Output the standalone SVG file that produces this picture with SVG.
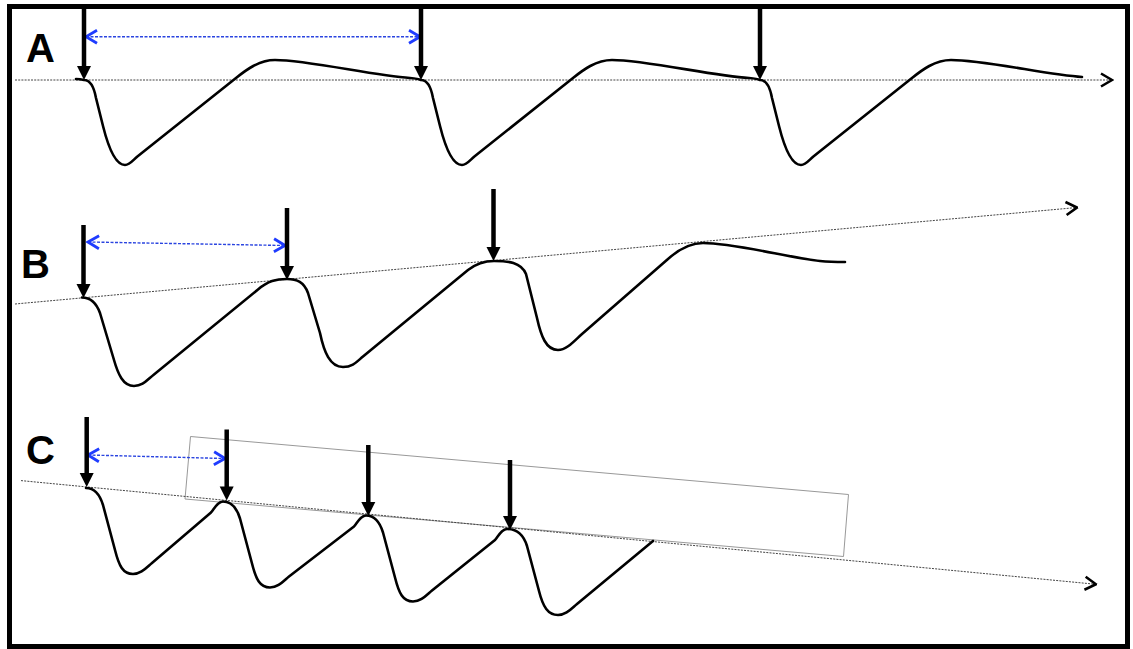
<svg xmlns="http://www.w3.org/2000/svg" width="1133" height="649" viewBox="0 0 1133 649">
<style>
.frame{fill:#fff;stroke:#000;stroke-width:5}
.axis{fill:none;stroke:#444;stroke-width:1;stroke-dasharray:2 1.2}
.wave{fill:none;stroke:#000;stroke-width:2.6;stroke-linejoin:round;stroke-linecap:round}
.shaft{stroke:#000;stroke-width:4.5}
.head{fill:#000}
.span{fill:none;stroke:#2a44e0;stroke-width:1.4;stroke-dasharray:3 1.5}
.box{fill:none;stroke:#999;stroke-width:1}
.lbl{font-family:"Liberation Sans",Arial,sans-serif;font-weight:bold;font-size:40px;fill:#000}
</style>
<defs>
<marker id="chev" viewBox="0 0 14 16" refX="12.5" refY="8" markerWidth="14" markerHeight="16" orient="auto" markerUnits="userSpaceOnUse">
<path d="M1.5,1.5 L12.5,8 L1.5,14.5" fill="none" stroke="#000" stroke-width="2.6"/>
</marker>
<marker id="bchev" viewBox="0 0 14 16" refX="12.5" refY="8" markerWidth="14" markerHeight="16" orient="auto-start-reverse" markerUnits="userSpaceOnUse">
<path d="M1.5,1.5 L12.5,8 L1.5,14.5" fill="none" stroke="#1f3cff" stroke-width="2.8"/>
</marker>
</defs>
<rect class="frame" x="9.5" y="6.5" width="1118" height="640"/>

<g id="panel-A">
<text class="lbl" x="26" y="62">A</text>
<g id="A-connectors">
<line class="axis" x1="15" y1="80" x2="1112" y2="80" marker-end="url(#chev)"/>
<line class="span" x1="86" y1="36.7" x2="420" y2="36.7" marker-start="url(#bchev)" marker-end="url(#bchev)"/>
</g>
<path class="wave" d="M76,79 C80,79 82,79.5 84,80 C90,80 94,87 96,98 L103,126 C107,142 114,165 125,165 C130,165 133,160 138,156 L236,78 C246,70 259,60 275,60 C309,60 374,76 410,78 C416,78.5 419,79 421,80 C427,80 431,87 433,98 L440,126 C444,142 451,165 462,165 C467,165 470,160 475,156 L573,78 C583,70 596,60 612,60 C646,60 713,76 749,78 C755,78.5 758,79 760,80 C766,80 770,87 772,98 L779,126 C783,142 790,165 801,165 C806,165 809,160 814,156 L912,78 C922,70 935,60 951,60 C985,60 1048,75 1082,77"/>
<g id="A-arrow1"><line class="shaft" x1="84" y1="8" x2="84" y2="68"/><polygon class="head" points="77,66 91,66 84,80"/></g>
<g id="A-arrow2"><line class="shaft" x1="421" y1="8" x2="421" y2="68"/><polygon class="head" points="414,66 428,66 421,80"/></g>
<g id="A-arrow3"><line class="shaft" x1="760" y1="8" x2="760" y2="68"/><polygon class="head" points="753,66 767,66 760,80"/></g>
</g>

<g id="panel-B">
<text class="lbl" x="21" y="278">B</text>
<g id="B-connectors">
<line class="axis" x1="15" y1="304" x2="1077" y2="207.5" marker-end="url(#chev)"/>
<line class="span" x1="88" y1="242" x2="285" y2="245.5" marker-start="url(#bchev)" marker-end="url(#bchev)"/>
</g>
<path class="wave" d="M82,297.5 C90,297.5 96,302 100,313 L114,360 C118,374 123,386 134,386 C143,386 147,380 154,374.5 L258,289.5 C268,281 276,279 287,279 C297,279 304,282 308,293 L320,333 C324,352 330,367 343,367 C353,367 357,361.5 363,356.5 L468,270 C477,263 485,261 494,261 C508,261 521,262 526,274 L537,318 C541,336 546,350 558,350 C567,350 575,340 582,334 L668,259 C678,250 690,243 703,243 C735,243 790,258 820,261 C830,262 838,262 845,262"/>
<g id="B-arrow1"><line class="shaft" x1="83.5" y1="225" x2="83.5" y2="286"/><polygon class="head" points="76.5,284 90.5,284 83.5,298"/></g>
<g id="B-arrow2"><line class="shaft" x1="287" y1="208" x2="287" y2="268"/><polygon class="head" points="280,266 294,266 287,280"/></g>
<g id="B-arrow3"><line class="shaft" x1="493.5" y1="189" x2="493.5" y2="249"/><polygon class="head" points="486.5,247 500.5,247 493.5,261"/></g>
</g>

<g id="panel-C">
<text class="lbl" x="26" y="464">C</text>
<polygon id="C-box" class="box" points="190.5,436.5 848.5,494.5 843.5,556.5 185,499"/>
<g id="C-connectors">
<line class="axis" x1="21" y1="480.6" x2="1096" y2="584.3" marker-end="url(#chev)"/>
<line class="span" x1="88" y1="455" x2="225" y2="458.5" marker-start="url(#bchev)" marker-end="url(#bchev)"/>
</g>
<path class="wave" d="M86,488 C93,488 99,492 103,505 L115,550 C119,566 123,574 133,574 C141,574 146,568 152,563 L211,512.5 C215,507.5 218,501.5 223,501.5 C230,501.5 236,505.5 240,518.5 L252,563.5 C256,579.5 260,587.5 270,587.5 C278,587.5 283,581.5 289,576.5 L354,526.5 C358,521.5 361,515.5 366,515.5 C373,515.5 379,519.5 383,532.5 L395,577.5 C399,593.5 403,601.5 413,601.5 C421,601.5 426,595.5 432,590.5 L495,540 C499,535 502,529 507,529 C516,529 523,533 527,546 L539,591 C543,607 548,615 558,615 C566,615 571,609 577,604 L653,541"/>
<g id="C-arrow1"><line class="shaft" x1="86.7" y1="417" x2="86.7" y2="475"/><polygon class="head" points="79.7,473 93.7,473 86.7,487"/></g>
<g id="C-arrow2"><line class="shaft" x1="226.7" y1="429.5" x2="226.7" y2="488.5"/><polygon class="head" points="219.7,486.5 233.7,486.5 226.7,500.5"/></g>
<g id="C-arrow3"><line class="shaft" x1="368.3" y1="445" x2="368.3" y2="504"/><polygon class="head" points="361.3,502 375.3,502 368.3,516"/></g>
<g id="C-arrow4"><line class="shaft" x1="510" y1="460" x2="510" y2="518"/><polygon class="head" points="503,516 517,516 510,530"/></g>
</g>
</svg>
